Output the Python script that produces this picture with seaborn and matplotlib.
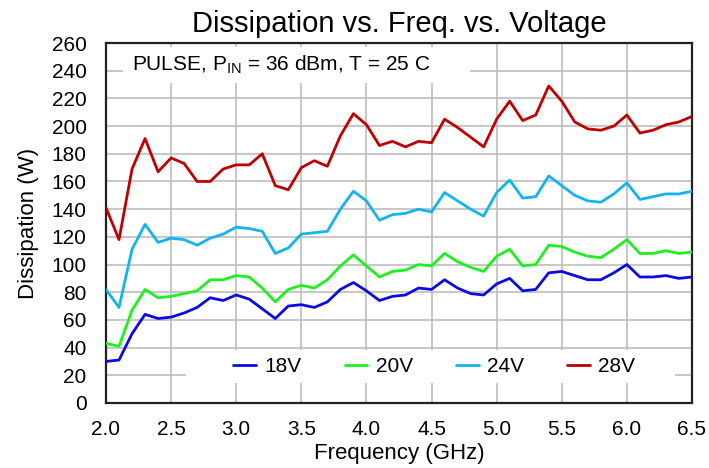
import numpy as np
import pandas as pd
import matplotlib
matplotlib.use('Agg')
import matplotlib.pyplot as plt
from matplotlib.patches import Rectangle
from matplotlib.lines import Line2D
import seaborn as sns

sns.set_style('white')
plt.rcParams['font.family'] = ['Liberation Sans', 'DejaVu Sans']
plt.rcParams['mathtext.fontset'] = 'custom'
plt.rcParams['mathtext.rm'] = 'Liberation Sans'
plt.rcParams['mathtext.it'] = 'Liberation Sans:italic'
plt.rcParams['text.color'] = 'black'
plt.rcParams['axes.labelcolor'] = 'black'

# ── Data ──────────────────────────────────────────────────────────
freq = [2.0, 2.1, 2.2, 2.3, 2.4, 2.5, 2.6, 2.7, 2.8, 2.9,
        3.0, 3.1, 3.2, 3.3, 3.4, 3.5, 3.6, 3.7, 3.8, 3.9,
        4.0, 4.1, 4.2, 4.3, 4.4, 4.5, 4.6, 4.7, 4.8, 4.9,
        5.0, 5.1, 5.2, 5.3, 5.4, 5.5, 5.6, 5.7, 5.8, 5.9,
        6.0, 6.1, 6.2, 6.3, 6.4, 6.5]

v18 = [30, 31, 50, 64, 61, 62, 65, 69, 76, 74,
       78, 75, 68, 61, 70, 71, 69, 73, 82, 87,
       81, 74, 77, 78, 83, 82, 89, 83, 79, 78,
       86, 90, 81, 82, 94, 95, 92, 89, 89, 94,
       100, 91, 91, 92, 90, 91]

v20 = [43, 41, 67, 82, 76, 77, 79, 81, 89, 89,
       92, 91, 83, 73, 82, 85, 83, 89, 99, 107,
       99, 91, 95, 96, 100, 99, 108, 102, 98, 95,
       106, 111, 99, 100, 114, 113, 109, 106, 105, 111,
       118, 108, 108, 110, 108, 109]

v24 = [82, 69, 111, 129, 116, 119, 118, 114, 119, 122,
       127, 126, 124, 108, 112, 122, 123, 124, 140, 153,
       146, 132, 136, 137, 140, 138, 152, 146, 140, 135,
       152, 161, 148, 149, 164, 157, 150, 146, 145, 151,
       159, 147, 149, 151, 151, 153]

v28 = [141, 118, 169, 191, 167, 177, 173, 160, 160, 169,
       172, 172, 180, 157, 154, 170, 175, 171, 193, 209,
       201, 186, 189, 185, 189, 188, 205, 199, 192, 185,
       205, 218, 204, 208, 229, 218, 203, 198, 197, 200,
       208, 195, 197, 201, 203, 207]

labels = ['18V', '20V', '24V', '28V']
colors = ['#0a0ae6', '#1ef01e', '#12b4f0', '#c00000']

df = pd.DataFrame({
    'freq': freq * 4,
    'diss': v18 + v20 + v24 + v28,
    'volt': np.repeat(labels, len(freq)),
})

# ── Figure ────────────────────────────────────────────────────────
fig, ax = plt.subplots(figsize=(7.09, 4.68), dpi=100)
fig.subplots_adjust(left=0.1495, right=0.976, bottom=0.139, top=0.908)

sns.lineplot(data=df, x='freq', y='diss', hue='volt', palette=colors,
             linewidth=2.0, ax=ax, legend=False, zorder=3)

ax.set_xlim(2.0, 6.5)
ax.set_ylim(0, 260)
ax.set_xticks(np.arange(2.0, 6.51, 0.5))
ax.set_yticks(np.arange(0, 261, 20))
ax.set_xticklabels([f'{v:.1f}' for v in np.arange(2.0, 6.51, 0.5)])
ax.tick_params(axis='both', length=0, labelsize=15, colors='black')
ax.tick_params(axis='x', pad=12)
ax.tick_params(axis='y', pad=14)

ax.set_axisbelow(True)
ax.grid(True, color='#bdbdbd', linewidth=1.2)
for spine in ax.spines.values():
    spine.set_edgecolor('#222222')
    spine.set_linewidth(1.6)

ax.set_title('Dissipation vs. Freq. vs. Voltage', fontsize=21, pad=8)
ax.set_xlabel('Frequency (GHz)', fontsize=16, labelpad=3)
ax.set_ylabel('Dissipation (W)', fontsize=16, labelpad=9)

# white boxes behind annotation and legend (they hide the grid)
ax.add_patch(Rectangle((0.029, 0.889), 0.592, 0.1, transform=ax.transAxes,
                       facecolor='white', edgecolor='none', zorder=1))
ax.add_patch(Rectangle((0.1365, 0.0556), 0.8345, 0.0914, transform=ax.transAxes,
                       facecolor='white', edgecolor='none', zorder=1))

ax.text(0.044, 0.939, r'PULSE, P$_{\mathrm{IN}}$ = 36 dBm, T = 25 C',
        transform=ax.transAxes, fontsize=15, va='center', ha='left', zorder=4)

handles = [Line2D([0], [0], color=c, linewidth=2.0) for c in colors]
ax.legend(handles, labels, loc='center', bbox_to_anchor=(0.56, 0.101),
          ncol=4, frameon=False, fontsize=15, handlelength=1.1,
          handletextpad=0.4, columnspacing=2.05)

plt.savefig('out.png', dpi=100)
plt.close()
